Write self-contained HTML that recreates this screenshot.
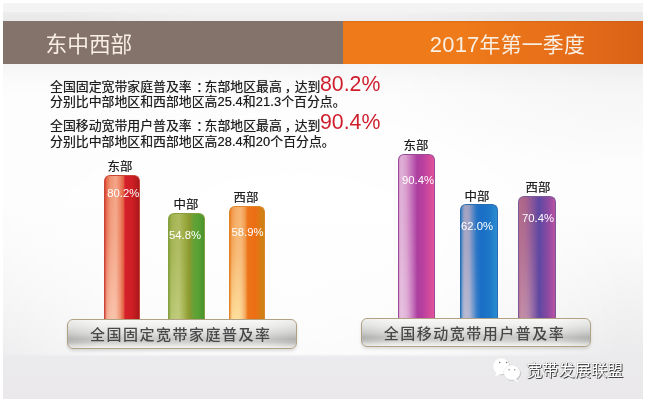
<!DOCTYPE html>
<html lang="zh-CN">
<head>
<meta charset="utf-8">
<title>东中西部 2017年第一季度</title>
<style>
html,body{margin:0;padding:0;background:#fff;}
body{width:646px;height:404px;position:relative;overflow:hidden;font-family:"Liberation Sans","Noto Sans CJK SC",sans-serif;}
#cv{position:absolute;left:3px;top:3px;width:640px;height:396px;overflow:hidden;
 background:linear-gradient(to bottom,#f4f4f4 0px,#f3f3f3 9px,#f0f0f0 13px,#efefef 18px,#f3f3f3 60px,#f6f6f6 64px,#fbfbfb 78px,#fdfdfd 95px,#fdfdfd 200px,#f9f9f9 250px,#f3f3f4 295px,#eeeeef 330px,#ebeaec 353px,#eae8eb 396px);}
#floor{position:absolute;left:0;top:61px;width:640px;height:293px;background:radial-gradient(ellipse 340px 230px at 290px 229px,rgba(255,255,255,.85) 0%,rgba(255,255,255,.75) 45%,rgba(255,255,255,.4) 75%,rgba(255,255,255,0) 100%);-webkit-mask-image:linear-gradient(to bottom,#000 0,#000 290px,transparent 293px);mask-image:linear-gradient(to bottom,#000 0,#000 290px,transparent 293px);}
.abs{position:absolute;white-space:nowrap;}
#bn1{left:0;top:18px;width:340px;height:43px;background:#83736b;}
#bn2{left:340px;top:18px;width:300px;height:43px;background:linear-gradient(to bottom,rgba(160,70,10,.25) 0,rgba(160,70,10,0) 2px),linear-gradient(to right,#ee7a1a 0%,#ee7a1a 40%,#e66e19 72%,#da6217 100%);}
.hd{line-height:43px;top:20.5px;height:43px;color:#f8eee2;font-weight:400;}
.p{font-size:12.88px;line-height:15px;color:#1a1a1a;left:47px;text-shadow:0 0 .7px rgba(0,0,0,.55);}
.p i{font-style:normal;letter-spacing:.1px;}
.p b{font-weight:inherit;position:relative;}
.big{font-size:21.3px;color:#cf1f2e;line-height:22px;transform:scaleY(1.05);transform-origin:50% 80%;}
.bar{position:absolute;border-radius:6px 6px 0 0;box-sizing:border-box;}
.bar:before{content:"";position:absolute;left:0;top:0;bottom:0;width:60%;background:linear-gradient(to bottom,rgba(255,255,255,0) 0%,rgba(255,255,255,.12) 40%,rgba(255,255,255,.5) 100%);-webkit-mask-image:linear-gradient(to right,rgba(0,0,0,.3) 0%,#000 10%,#000 42%,transparent 90%);mask-image:linear-gradient(to right,rgba(0,0,0,.3) 0%,#000 10%,#000 42%,transparent 90%);}
.bar.s:before{background:linear-gradient(to bottom,rgba(255,255,255,0) 0%,rgba(255,255,255,.07) 40%,rgba(255,255,255,.26) 100%);}
.bar.r:before{background:linear-gradient(to bottom,rgba(255,228,210,0) 0%,rgba(255,228,210,.12) 40%,rgba(255,228,210,.55) 100%);}
.bar.y:before{background:linear-gradient(to bottom,rgba(255,236,170,0) 0%,rgba(255,236,170,.2) 40%,rgba(255,236,170,.8) 100%);}
.bar.g:before{background:linear-gradient(to bottom,rgba(240,250,200,0) 0%,rgba(240,250,200,.08) 40%,rgba(240,250,200,.3) 100%);}
.lab{font-size:12.4px;line-height:14px;color:#1c1c1c;text-shadow:0 0 .6px rgba(0,0,0,.5);text-align:center;width:60px;}
.val{font-size:11.3px;line-height:12px;color:#fff;text-align:center;}
.box{position:absolute;height:30px;box-sizing:border-box;border:1.8px solid #b2a284;border-radius:6px;padding-right:2.5px;
 background:
  linear-gradient(to right,rgba(0,0,0,.03) 0%,rgba(255,255,255,.25) 14%,rgba(255,255,255,.25) 86%,rgba(0,0,0,.03) 100%),
  linear-gradient(to bottom,#f6f6f4 0%,#e8e8e6 25%,#d0d0ce 50%,#b6b6b4 68%,#c2c2c0 80%,#e0e0de 92%,#f0f0ee 100%);
 box-shadow:0 2px 3px rgba(0,0,0,.12);
 font-size:15px;font-weight:500;letter-spacing:1.5px;color:#484848;text-align:center;line-height:28.5px;white-space:nowrap;}
</style>
</head>
<body>
<div id="cv">
 <div id="floor"></div>
 <div class="abs" style="left:340px;top:61px;width:300px;height:160px;background:radial-gradient(ellipse 280px 110px at 100% 0%,rgba(0,0,0,.035) 0%,rgba(0,0,0,.02) 50%,rgba(0,0,0,0) 100%);"></div>
 <div class="abs" style="left:380px;top:9px;width:260px;height:9px;background:linear-gradient(to right,rgba(0,0,0,0),rgba(0,0,0,.035) 60%);"></div>
 <div class="abs" style="left:0;top:9px;width:200px;height:9px;background:linear-gradient(to left,rgba(0,0,0,0),rgba(0,0,0,.025) 70%);"></div>
 <div id="bn1" class="abs"></div>
 <div id="bn2" class="abs"></div>
 <div class="abs hd" style="left:42.5px;font-size:21.7px;top:19.5px;">东中西部</div>
 <div class="abs hd" style="left:426.8px;font-size:20.9px;top:19.5px;letter-spacing:.2px;"><span style="font-size:22px;">2017</span>年第一季度</div>

 <div class="abs p" style="top:76px;">全国固定宽带家庭普及率<b style="left:4.5px">：</b>东部地区最高<b style="left:3px">，</b>达到</div>
 <div class="abs p" style="top:91px;">分别比中部地区和西部地区高<i>25.4</i>和<i>21.3</i>个百分点。</div>
 <div class="abs p" style="top:115px;">全国移动宽带用户普及率<b style="left:4.5px">：</b>东部地区最高<b style="left:3px">，</b>达到</div>
 <div class="abs p" style="top:130.5px;">分别比中部地区和西部地区高<i>28.4</i>和<i>20</i>个百分点。</div>
 <div class="abs big" style="left:317px;top:69.7px;">80.2%</div>
 <div class="abs big" style="left:317px;top:108.2px;">90.4%</div>

 <!-- left chart -->
 <div class="bar r" style="left:101px;top:172px;width:36px;height:146px;border:1px solid #c8453a;border-bottom:0;background:linear-gradient(to right,#d8402e 0%,#e66a4c 5%,#f09474 16%,#f4a688 32%,#ec8060 46%,#e25c42 55%,#d4202a 59%,#cf1e24 80%,#a8181c 100%);"></div>
 <div class="bar g" style="left:165px;top:210px;width:37px;height:108px;border:1px solid #86a040;border-bottom:0;background:linear-gradient(to right,#86a038 0%,#a2b250 8%,#aebb60 28%,#9caa42 45%,#8a9a30 59%,#62a236 72%,#58a034 85%,#48942c 100%);"></div>
 <div class="bar y" style="left:226px;top:203px;width:35.5px;height:115px;border:1px solid #e08428;border-bottom:0;background:linear-gradient(to right,#e87a1e 0%,#f29a4c 6%,#f6ae6a 18%,#f7b474 32%,#f29a4e 44%,#ee7418 52%,#ec6e14 75%,#d87c14 90%,#c88414 100%);"></div>
 <div class="abs lab" style="left:87px;top:157px;">东部</div>
 <div class="abs lab" style="left:153px;top:195px;">中部</div>
 <div class="abs lab" style="left:213px;top:187.5px;">西部</div>
 <div class="abs val" style="left:100.3px;width:40px;top:183.7px;">80.2%</div>
 <div class="abs val" style="left:162px;width:40px;top:226px;">54.8%</div>
 <div class="abs val" style="left:224.5px;width:40px;top:223px;">58.9%</div>
 <div class="box" style="left:64px;top:316px;width:230px;line-height:30.3px;">全国固定宽带家庭普及率</div>

 <!-- right chart -->
 <div class="bar s" style="left:395px;top:151px;width:37px;height:167px;border:1px solid #9a4a98;border-bottom:0;background:linear-gradient(to right,#d698c8 0%,#e0b0d8 6%,#d89ccc 20%,#c46cb8 36%,#ac3ea0 52%,#b8409e 68%,#e2529a 100%);"></div>
 <div class="bar s" style="left:457px;top:201px;width:38px;height:117px;border:1px solid #2a6cb0;border-bottom:0;background:linear-gradient(to right,#2c78c0 0%,#7a96c2 5%,#a6a4c2 11%,#9ca0c4 22%,#5c88c4 33%,#2472c4 44%,#1a6ec6 58%,#1e78c8 80%,#2c8cd0 100%);"></div>
 <div class="bar s" style="left:515px;top:193px;width:38px;height:125px;border:1px solid #7a5a96;border-bottom:0;background:linear-gradient(to right,#b26a8a 0%,#aa648c 18%,#8a5698 36%,#5f48a2 56%,#8a4aa2 80%,#ba52a2 100%);"></div>
 <div class="abs lab" style="left:383px;top:136px;">东部</div>
 <div class="abs lab" style="left:444px;top:187px;">中部</div>
 <div class="abs lab" style="left:505px;top:178px;">西部</div>
 <div class="abs val" style="left:395px;width:40px;top:171px;">90.4%</div>
 <div class="abs val" style="left:454px;width:40px;top:217px;">62.0%</div>
 <div class="abs val" style="left:515px;width:40px;top:209px;">70.4%</div>
 <div class="box" style="left:358px;top:315.4px;width:229.6px;height:28.8px;line-height:29px;">全国移动宽带用户普及率</div>

 <!-- watermark -->
 <svg class="abs" style="left:488px;top:352px;" width="36" height="32" viewBox="0 0 36 32">
  <ellipse cx="11" cy="12" rx="8.1" ry="8.2" fill="#777" opacity=".45"/>
  <ellipse cx="21.6" cy="18.3" rx="8.3" ry="7.6" fill="#777" opacity=".45"/>
  <ellipse cx="10.4" cy="11.4" rx="8.1" ry="8.2" fill="#fff"/>
  <path d="M5.5 17.5 L4 21.5 L9.5 19Z" fill="#fff"/>
  <ellipse cx="20.9" cy="17.6" rx="8.3" ry="7.6" fill="#fff" stroke="#ddd" stroke-width=".5"/>
  <path d="M25 24 L27.8 27.2 L22 25Z" fill="#fff"/>
  <circle cx="8.6" cy="7.6" r=".75" fill="#777"/><circle cx="15.6" cy="7.6" r=".75" fill="#777"/>
  <circle cx="18.1" cy="14.8" r=".7" fill="#888"/><circle cx="23.7" cy="14.8" r=".7" fill="#888"/>
 </svg>
 <div class="abs" style="left:523.2px;top:357px;font-size:16.2px;line-height:20px;color:#fff;text-shadow:1px 1px 0 #444,0 0 1px #555;">宽带发展联盟</div>
</div>
</body>
</html>
